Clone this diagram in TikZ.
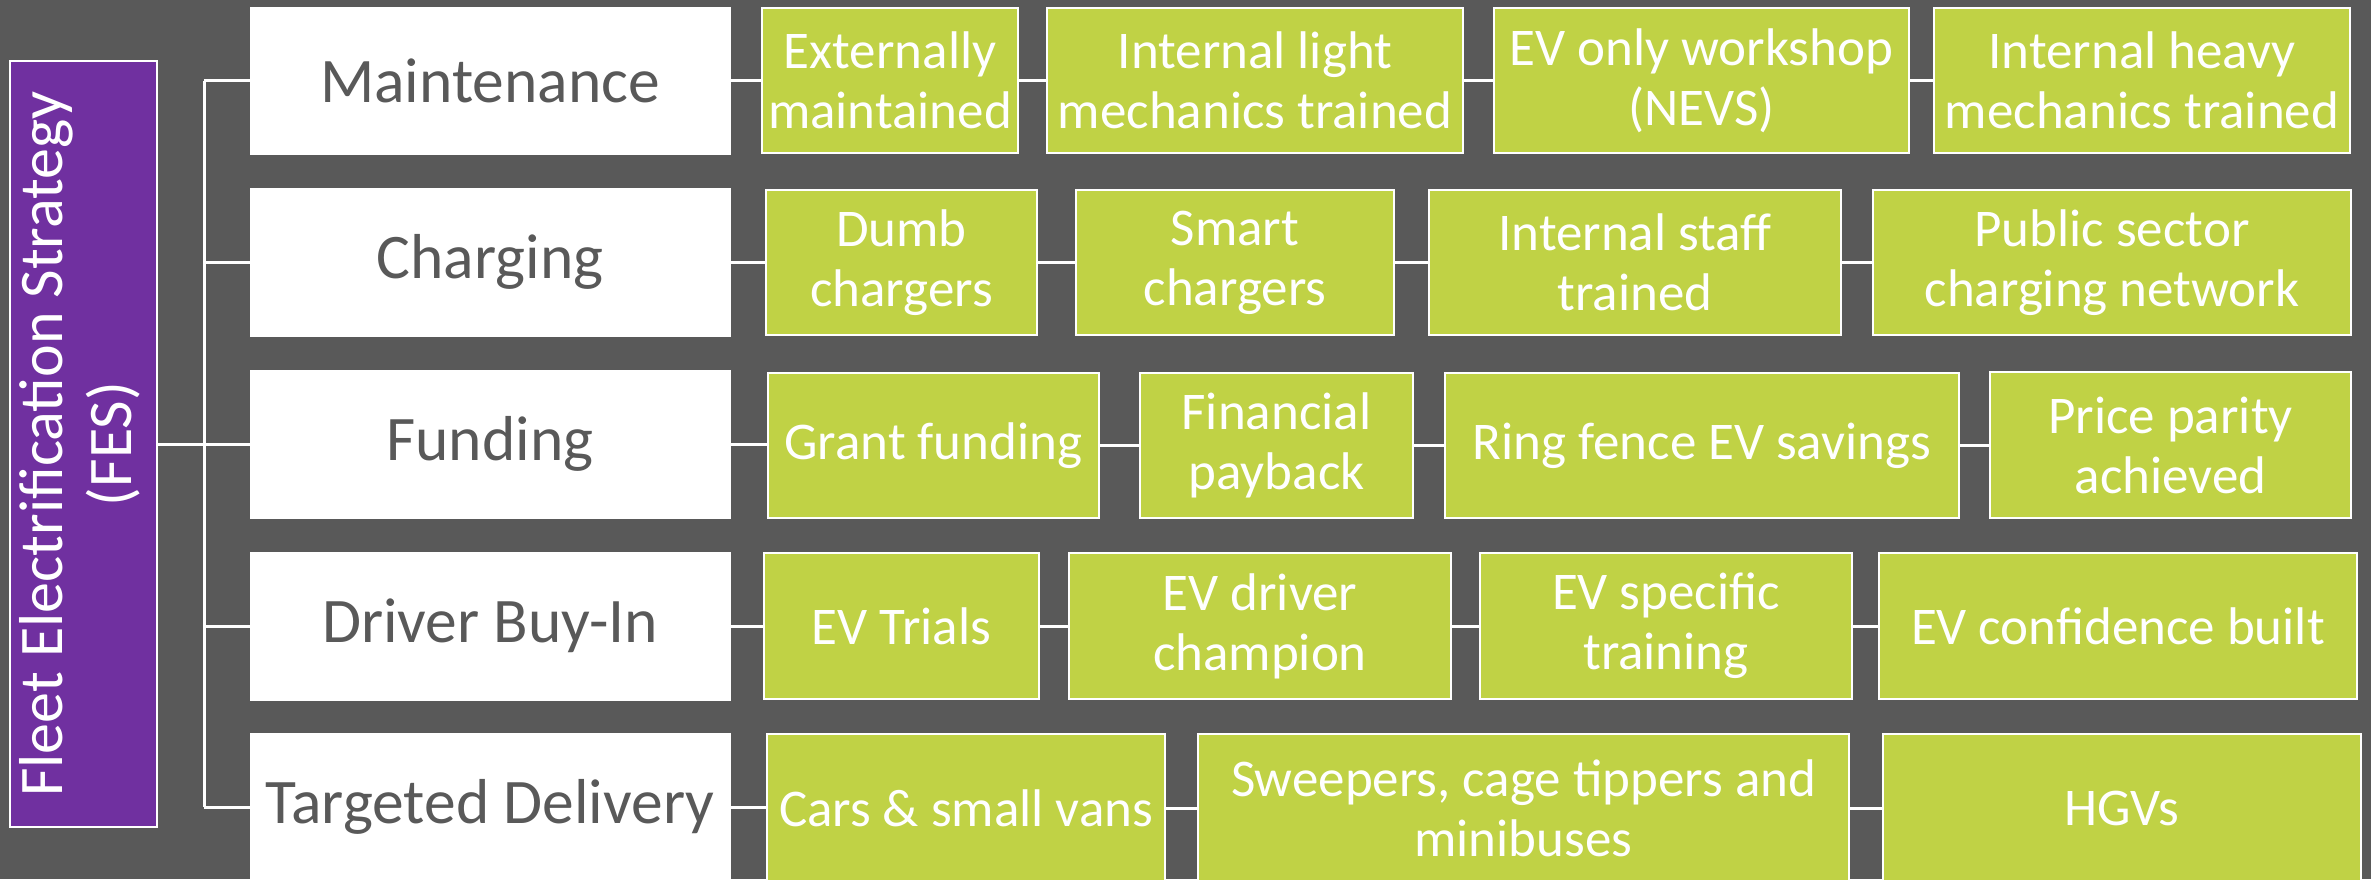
\documentclass[tikz,border=0pt]{standalone}
\usepackage{fontspec}
\setmainfont{Carlito}
\definecolor{bggrey}{HTML}{595959}
\definecolor{fespurple}{HTML}{7030A0}
\definecolor{limegreen}{HTML}{C0D245}
\definecolor{txtgrey}{HTML}{595959}
\tikzset{
  wbox/.style={draw=white, fill=white, text=txtgrey, font=\fontsize{63.5}{72}\selectfont, inner sep=0pt, line width=1pt},
  gbox/.style={draw=white, fill=limegreen, text=white, font=\fontsize{53}{60}\selectfont, align=center, inner sep=0pt, line width=2.5pt},
  pbox/.style={draw=white, fill=fespurple, text=white, font=\fontsize{62}{69}\selectfont, align=center, inner sep=0pt, line width=2.5pt},
  conn/.style={draw=white, line width=3pt}
}
\newcommand{\boxat}[7]{%
  \node[#1, minimum width={#5pt-#3pt}, minimum height={#6pt-#4pt}] (#2) at ({(#3+#5)/2},{(#4+#6)/2}) {#7};}
\begin{document}
\begin{tikzpicture}[x=1pt,y=-1pt]
\useasboundingbox (0,0) rectangle (2371,879);
\clip (0,0) rectangle (2371,879);
\fill[bggrey] (0,0) rectangle (2371,879);

% root
\boxat{pbox}{fes}{10}{61}{157}{827}{\rotatebox{90}{\begin{tabular}{@{}c@{}}Fleet Electrification Strategy\\(FES)\end{tabular}}}

% categories
\boxat{wbox}{mnt}{250}{7}{730}{154}{Maintenance}
\boxat{wbox}{chg}{250}{188}{730}{336}{Charging}
\boxat{wbox}{fnd}{250}{370}{730}{518}{Funding}
\boxat{wbox}{drv}{250}{552}{730}{700}{Driver Buy-In}
\boxat{wbox}{tgt}{250}{733}{730}{881}{Targeted Delivery}

% row 1
\boxat{gbox}{m1}{762}{8}{1018}{153}{Externally\\maintained}
\boxat{gbox}{m2}{1047}{8}{1463}{153}{Internal light\\mechanics trained}
\boxat{gbox}{m3}{1494}{8}{1909}{153}{EV only workshop\\(NEVS)}
\boxat{gbox}{m4}{1934}{8}{2350}{153}{Internal heavy\\mechanics trained}
% row 2
\boxat{gbox}{c1}{766}{190}{1037}{335}{Dumb\\chargers}
\boxat{gbox}{c2}{1076}{190}{1394}{335}{Smart\\chargers}
\boxat{gbox}{c3}{1429}{190}{1841}{335}{Internal staff\\trained}
\boxat{gbox}{c4}{1873}{190}{2351}{335}{Public sector\\charging network}
% row 3
\boxat{gbox}{f1}{768}{373}{1099}{518}{Grant funding}
\boxat{gbox}{f2}{1140}{373}{1413}{518}{Financial\\payback}
\boxat{gbox}{f3}{1445}{373}{1959}{518}{Ring fence EV savings}
\boxat{gbox}{f4}{1990}{372}{2351}{518}{Price parity\\achieved}
% row 4
\boxat{gbox}{d1}{764}{553}{1039}{699}{EV Trials}
\boxat{gbox}{d2}{1069}{553}{1451}{699}{EV driver\\champion}
\boxat{gbox}{d3}{1480}{553}{1852}{699}{EV specific\\training}
\boxat{gbox}{d4}{1879}{553}{2357}{699}{EV confidence built}
% row 5
\boxat{gbox}{t1}{767}{734}{1165}{882}{Cars \& small vans}
\boxat{gbox}{t2}{1198}{734}{1849}{882}{Sweepers, cage tippers and\\minibuses}
\boxat{gbox}{t3}{1883}{734}{2361}{882}{HGVs}

% trunk
\coordinate (trunk) at (204,444);
\draw[conn] (fes.east) -- (fes.east -| trunk);
\draw[conn] (mnt.west -| trunk) -- (tgt.west -| trunk);
\foreach \c in {mnt,chg,fnd,drv,tgt} {
  \draw[conn] (\c.west -| trunk) -- (\c.west);
}
% row connectors
\foreach \a/\b in {mnt/m1,m1/m2,m2/m3,m3/m4,
                   chg/c1,c1/c2,c2/c3,c3/c4,
                   fnd/f1,f1/f2,f2/f3,f3/f4,
                   drv/d1,d1/d2,d2/d3,d3/d4,
                   tgt/t1,t1/t2,t2/t3} {
  \draw[conn] (\a.east) -- (\a.east -| \b.west);
}
\end{tikzpicture}
\end{document}
